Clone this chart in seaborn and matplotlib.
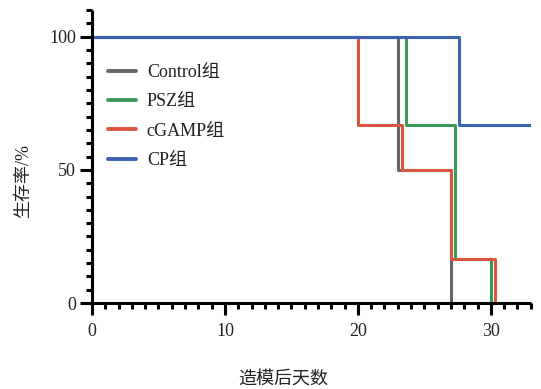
import pandas as pd
import matplotlib
matplotlib.use("Agg")
import matplotlib.pyplot as plt
from matplotlib.ticker import MultipleLocator
import seaborn as sns

# survival curves (days after modelling, % survival)
groups = ["Control组", "PSZ组", "cGAMP组", "CP组"]
control_days = [0, 23, 27]
control_surv = [100, 50, 0]
psz_days = [0, 23.6, 27.3, 30]
psz_surv = [100, 66.7, 16.7, 0]
cgamp_days = [0, 20, 23.3, 27, 30.3]
cgamp_surv = [100, 66.7, 50, 16.7, 0]
cp_days = [0, 27.6, 33]
cp_surv = [100, 66.7, 66.7]
colors = ["#666666", "#3a9a5b", "#d9553f", "#3a62b0"]

frames = []
for g, d, s in zip(groups,
                   [control_days, psz_days, cgamp_days, cp_days],
                   [control_surv, psz_surv, cgamp_surv, cp_surv]):
    frames.append(pd.DataFrame({"day": d, "surv": s, "group": g}))
df = pd.concat(frames, ignore_index=True)

sns.set_style("ticks")
plt.rcParams["font.family"] = ["Liberation Serif", "Noto Sans CJK SC"]
plt.rcParams["axes.unicode_minus"] = False

fig = plt.figure(figsize=(5.41, 3.89), dpi=100)
ax = fig.add_axes([0.170, 0.221, 0.811, 0.753])

sns.lineplot(data=df, x="day", y="surv", hue="group", hue_order=groups,
             palette=colors, estimator=None, sort=False, drawstyle="steps-post",
             linewidth=2.2, ax=ax)

ax.set_xlim(0, 33)
ax.set_ylim(0, 110)
ax.xaxis.set_major_locator(MultipleLocator(10))
ax.xaxis.set_minor_locator(MultipleLocator(1))
ax.yaxis.set_major_locator(MultipleLocator(50))
ax.yaxis.set_minor_locator(MultipleLocator(5))
ax.set_yticks([0, 50, 100])

for side in ["top", "right"]:
    ax.spines[side].set_visible(False)
for side in ["left", "bottom"]:
    ax.spines[side].set_linewidth(2.2)
    ax.spines[side].set_color("black")
    ax.spines[side].set_capstyle("butt")

ax.tick_params(which="major", length=8.5, width=2.2, labelsize=13, pad=3,
               color="black", labelcolor="#222222")
ax.tick_params(which="minor", length=4.5, width=2.2, color="black")
ax.tick_params(axis="x", which="major", pad=6)

ax.set_xlabel("造模后天数", fontsize=13, color="#222222")
ax.set_ylabel("生存率/%", fontsize=13, color="#222222")
ax.xaxis.set_label_coords(0.435, -0.235)
ax.yaxis.set_label_coords(-0.137, 0.416)

leg = ax.legend(loc="upper left", bbox_to_anchor=(0.02, 0.84), frameon=False,
                fontsize=13, handlelength=1.55, handletextpad=0.6,
                labelspacing=0.68, borderaxespad=0)
for line in leg.get_lines():
    line.set_linewidth(2.8)
for t in leg.get_texts():
    t.set_color("#222222")

fig.savefig("out.png", dpi=100)
